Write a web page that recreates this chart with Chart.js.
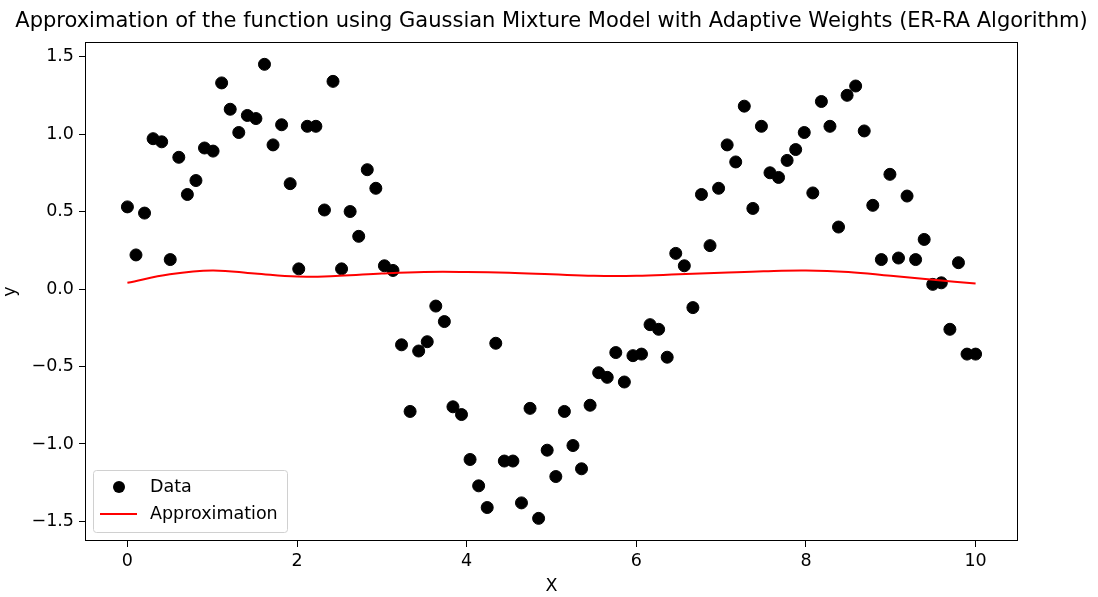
<!DOCTYPE html>
<html>
<head>
<meta charset="utf-8">
<script src="https://cdn.jsdelivr.net/npm/chart.js@4"></script>
<style>
  html, body { margin: 0; padding: 0; background: #fff; }
  #wrap { width: 1098px; height: 597px; }
</style>
</head>
<body>
<div id="wrap"><canvas id="grafico" width="1098" height="597"></canvas></div>
<script>
// pontos observados (x, y)
const dataX = [0, 0.101, 0.202, 0.303, 0.404, 0.505, 0.606, 0.707, 0.808, 0.909,
  1.010, 1.111, 1.212, 1.313, 1.414, 1.515, 1.616, 1.717, 1.818, 1.919,
  2.020, 2.121, 2.222, 2.323, 2.424, 2.525, 2.626, 2.727, 2.828, 2.929,
  3.030, 3.131, 3.232, 3.333, 3.434, 3.535, 3.636, 3.737, 3.838, 3.939,
  4.040, 4.141, 4.242, 4.343, 4.444, 4.545, 4.646, 4.747, 4.848, 4.949,
  5.051, 5.152, 5.253, 5.354, 5.455, 5.556, 5.657, 5.758, 5.859, 5.960,
  6.061, 6.162, 6.263, 6.364, 6.465, 6.566, 6.667, 6.768, 6.869, 6.970,
  7.071, 7.172, 7.273, 7.374, 7.475, 7.576, 7.677, 7.778, 7.879, 7.980,
  8.081, 8.182, 8.283, 8.384, 8.485, 8.586, 8.687, 8.788, 8.889, 8.990,
  9.091, 9.192, 9.293, 9.394, 9.495, 9.596, 9.697, 9.798, 9.899, 10.0];
const dataY = [0.53, 0.22, 0.49, 0.97, 0.95, 0.19, 0.85, 0.61, 0.70, 0.91,
  0.89, 1.33, 1.16, 1.01, 1.12, 1.10, 1.45, 0.93, 1.06, 0.68,
  0.13, 1.05, 1.05, 0.51, 1.34, 0.13, 0.50, 0.34, 0.77, 0.65,
  0.15, 0.12, -0.36, -0.79, -0.40, -0.34, -0.11, -0.21, -0.76, -0.81,
  -1.10, -1.27, -1.41, -0.35, -1.11, -1.11, -1.38, -0.77, -1.48, -1.04,
  -1.21, -0.79, -1.01, -1.16, -0.75, -0.54, -0.57, -0.41, -0.60, -0.43,
  -0.42, -0.23, -0.26, -0.44, 0.23, 0.15, -0.12, 0.61, 0.28, 0.65,
  0.93, 0.82, 1.18, 0.52, 1.05, 0.75, 0.72, 0.83, 0.90, 1.01,
  0.62, 1.21, 1.05, 0.40, 1.25, 1.31, 1.02, 0.54, 0.19, 0.74,
  0.20, 0.60, 0.19, 0.32, 0.03, 0.04, -0.26, 0.17, -0.42, -0.42];

// curva da aproximação
const approxX = [0, 0.5, 1, 1.5, 2, 2.5, 3, 3.5, 4, 4.5, 5, 5.5, 6, 6.5, 7, 7.5, 8, 8.5, 9, 9.5, 10];
const approxY = [0.04, 0.095, 0.12, 0.10, 0.08, 0.085, 0.10, 0.11, 0.11, 0.105, 0.095,
  0.085, 0.085, 0.095, 0.105, 0.115, 0.12, 0.11, 0.085, 0.06, 0.035];

const xTicks = [0, 2, 4, 6, 8, 10];
const yTicks = [-1.5, -1.0, -0.5, 0.0, 0.5, 1.0, 1.5];

const titulo = 'Approximation of the function using Gaussian Mixture Model with Adaptive Weights (ER-RA Algorithm)';
const FONTE = '"DejaVu Sans", sans-serif';

// moldura, título e legenda no estilo matplotlib
const extras = {
  id: 'extras',
  afterDraw(chart) {
    const { ctx, chartArea: a } = chart;
    ctx.save();
    ctx.strokeStyle = '#000';
    ctx.lineWidth = 1;
    ctx.strokeRect(a.left + 0.5, a.top + 0.5, a.right - a.left - 1, a.bottom - a.top - 1);

    ctx.fillStyle = '#000';
    ctx.font = '21px ' + FONTE;
    ctx.textAlign = 'center';
    ctx.textBaseline = 'middle';
    ctx.fillText(titulo, (a.left + a.right) / 2, 22);

    // legenda
    const lx = a.left + 8, ly = a.bottom - 71, lw = 194, lh = 62;
    ctx.beginPath();
    ctx.roundRect(lx + 0.5, ly + 0.5, lw, lh, 3);
    ctx.fillStyle = 'rgba(255,255,255,0.8)';
    ctx.fill();
    ctx.strokeStyle = '#d0d0d0';
    ctx.stroke();

    const ds = chart.data.datasets;
    ctx.font = '17.5px ' + FONTE;
    ctx.textAlign = 'left';
    ctx.fillStyle = '#000';
    ctx.beginPath();
    ctx.arc(lx + 26, ly + 17, 6, 0, Math.PI * 2);
    ctx.fill();
    ctx.fillText(ds[0].label, lx + 57, ly + 17);

    ctx.strokeStyle = 'red';
    ctx.lineWidth = 2;
    ctx.beginPath();
    ctx.moveTo(lx + 7, ly + 44);
    ctx.lineTo(lx + 44, ly + 44);
    ctx.stroke();
    ctx.fillStyle = '#000';
    ctx.fillText(ds[1].label, lx + 57, ly + 44);
    ctx.restore();
  }
};

function fmt(v) {
  return v.toFixed(1).replace('-', '\u2212');
}

const ctx = document.getElementById('grafico').getContext('2d');
new Chart(ctx, {
  type: 'scatter',
  data: {
    datasets: [{
      label: 'Data',
      data: dataX.map((x, i) => ({ x: x, y: dataY[i] })),
      backgroundColor: '#000',
      borderColor: '#000',
      pointRadius: 6,
      pointHoverRadius: 6,
      order: 2
    }, {
      label: 'Approximation',
      type: 'line',
      data: approxX.map((x, i) => ({ x: x, y: approxY[i] })),
      borderColor: 'red',
      borderWidth: 2,
      pointRadius: 0,
      fill: false,
      tension: 0.4,
      order: 1
    }]
  },
  options: {
    responsive: false,
    animation: false,
    layout: { padding: { top: 42, right: 80, left: 0, bottom: 0 } },
    plugins: {
      legend: { display: false },
      title: { display: false },
      tooltip: { enabled: false }
    },
    scales: {
      x: {
        type: 'linear',
        min: -0.5,
        max: 10.5,
        afterBuildTicks: s => { s.ticks = xTicks.map(v => ({ value: v })); },
        afterFit: s => { s.height = 56; },
        grid: { display: true, drawOnChartArea: false, drawTicks: true, tickLength: 6, color: '#000' },
        border: { display: false },
        ticks: { color: '#000', font: { family: FONTE, size: 17.5 }, padding: 4, maxRotation: 0, callback: v => String(v) },
        title: { display: true, text: 'X', color: '#000', font: { family: FONTE, size: 17.5 }, padding: { top: 0, bottom: 0 } }
      },
      y: {
        type: 'linear',
        min: -1.626,
        max: 1.594,
        afterBuildTicks: s => { s.ticks = yTicks.map(v => ({ value: v })); },
        afterFit: s => { s.width = 85; },
        grid: { display: true, drawOnChartArea: false, drawTicks: true, tickLength: 6, color: '#000' },
        border: { display: false },
        ticks: { color: '#000', font: { family: FONTE, size: 17.5 }, padding: 5, callback: v => fmt(v) },
        title: { display: true, text: 'y', color: '#000', font: { family: FONTE, size: 17.5 }, padding: { top: 0, bottom: 2 } }
      }
    }
  },
  plugins: [extras]
});
</script>
</body>
</html>
